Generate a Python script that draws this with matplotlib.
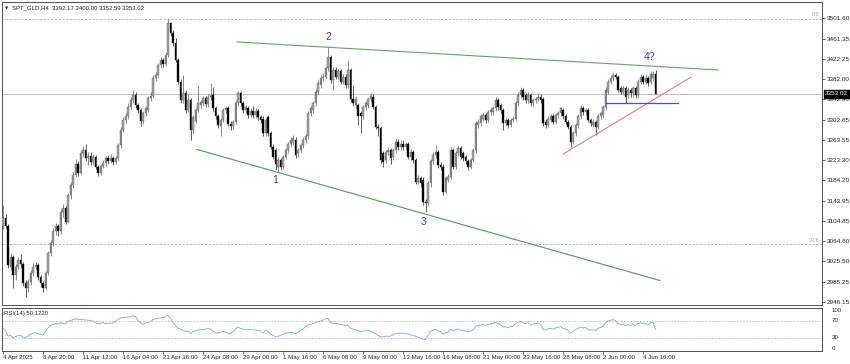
import matplotlib

matplotlib.use("Agg")
import matplotlib.pyplot as plt
import matplotlib.transforms as mtransforms
import numpy as np

# SPT_GLD H4 candles, 4 Apr 2025 .. 5 Jun 2025
OPENS = [
    3094, 3110, 3094, 3015, 3035, 2998, 3015, 3028, 3020, 2983,
    2973, 2986, 3002, 3015, 3018, 2995, 2983, 2973, 3002, 3041,
    3061, 3084, 3094, 3084, 3123, 3130, 3103, 3155, 3175, 3195,
    3217, 3198, 3237, 3244, 3227, 3232, 3220, 3230, 3211, 3198,
    3212, 3218, 3227, 3222, 3228, 3220, 3227, 3253, 3283, 3302,
    3309, 3328, 3341, 3351, 3331, 3322, 3300, 3315, 3322, 3345,
    3350, 3385, 3390, 3410, 3420, 3412, 3430, 3491, 3472, 3452,
    3420, 3377, 3341, 3355, 3322, 3341, 3282, 3300, 3322, 3332,
    3335, 3345, 3333, 3348, 3351, 3325, 3309, 3290, 3302, 3322,
    3326, 3295, 3290, 3298, 3335, 3354, 3335, 3322, 3325, 3312,
    3320, 3312, 3320, 3308, 3305, 3276, 3308, 3276, 3250, 3243,
    3211, 3224, 3211, 3230, 3243, 3256, 3260, 3263, 3237, 3243,
    3253, 3263, 3270, 3315, 3322, 3335, 3357, 3370, 3384, 3387,
    3403, 3426, 3380, 3400, 3387, 3397, 3377, 3387, 3370, 3400,
    3344, 3331, 3331, 3315, 3309, 3328, 3331, 3344, 3348, 3328,
    3289, 3286, 3237, 3224, 3240, 3243, 3230, 3243, 3260, 3250,
    3256, 3250, 3256, 3230, 3240, 3224, 3181, 3188, 3185, 3142,
    3139, 3178, 3221, 3234, 3240, 3214, 3211, 3162, 3185, 3191,
    3243, 3211, 3237, 3247, 3237, 3230, 3221, 3211, 3224, 3243,
    3292, 3296, 3305, 3312, 3302, 3318, 3318, 3325, 3341, 3331,
    3322, 3296, 3302, 3292, 3302, 3305, 3335, 3351, 3361, 3351,
    3341, 3351, 3335, 3341, 3344, 3348, 3344, 3299, 3292, 3302,
    3309, 3299, 3312, 3315, 3322, 3309, 3299, 3289, 3260, 3276,
    3292, 3309, 3325, 3318, 3322, 3302, 3292, 3299, 3289, 3309,
    3312, 3328, 3357, 3377, 3384, 3390, 3387, 3364, 3357, 3364,
    3351, 3361, 3354, 3364, 3351, 3377, 3387, 3377, 3384, 3377,
    3385, 3392.17,
]
HIGHS = [
    3136, 3118, 3098, 3041, 3038, 3020, 3035, 3040, 3025, 2990,
    2992, 3008, 3022, 3025, 3022, 2998, 2988, 3006, 3046, 3068,
    3090, 3100, 3098, 3128, 3138, 3133, 3160, 3180, 3200, 3225,
    3222, 3243, 3252, 3255, 3240, 3240, 3236, 3234, 3215, 3216,
    3224, 3233, 3234, 3236, 3232, 3232, 3258, 3288, 3308, 3316,
    3335, 3348, 3360, 3356, 3336, 3326, 3320, 3330, 3350, 3356,
    3390, 3396, 3414, 3426, 3424, 3436, 3500, 3494, 3478, 3462,
    3424, 3382, 3390, 3360, 3352, 3346, 3312, 3326, 3370, 3342,
    3350, 3350, 3352, 3374, 3366, 3330, 3314, 3306, 3326, 3330,
    3330, 3300, 3302, 3340, 3358, 3358, 3340, 3332, 3330, 3326,
    3330, 3325, 3324, 3312, 3310, 3306, 3312, 3280, 3256, 3248,
    3230, 3228, 3234, 3248, 3260, 3268, 3272, 3268, 3248, 3258,
    3268, 3275, 3320, 3330, 3340, 3362, 3380, 3390, 3394, 3408,
    3444, 3430, 3405, 3406, 3402, 3402, 3392, 3392, 3420, 3404,
    3370, 3350, 3336, 3320, 3332, 3340, 3348, 3354, 3352, 3332,
    3294, 3290, 3242, 3244, 3250, 3248, 3248, 3266, 3264, 3262,
    3262, 3260, 3260, 3246, 3244, 3228, 3194, 3192, 3190, 3148,
    3182, 3226, 3240, 3253, 3244, 3220, 3216, 3192, 3196, 3250,
    3248, 3242, 3254, 3252, 3242, 3234, 3226, 3228, 3248, 3300,
    3304, 3314, 3318, 3316, 3322, 3328, 3330, 3348, 3345, 3335,
    3326, 3308, 3306, 3306, 3310, 3340, 3356, 3367, 3364, 3355,
    3356, 3355, 3346, 3348, 3354, 3352, 3348, 3304, 3310, 3314,
    3313, 3316, 3320, 3328, 3326, 3313, 3303, 3293, 3280, 3296,
    3313, 3332, 3330, 3326, 3326, 3306, 3304, 3303, 3313, 3320,
    3332, 3366, 3382, 3388, 3395, 3394, 3391, 3368, 3368, 3368,
    3366, 3365, 3368, 3368, 3382, 3392, 3391, 3390, 3388, 3397,
    3398, 3400.00,
]
LOWS = [
    3088, 3090, 3012, 3008, 2973, 2990, 3010, 3012, 2978, 2955,
    2965, 2980, 2997, 3008, 2990, 2975, 2966, 2970, 2998, 3036,
    3055, 3078, 3075, 3080, 3112, 3098, 3100, 3148, 3170, 3190,
    3192, 3195, 3230, 3222, 3215, 3215, 3214, 3206, 3192, 3194,
    3208, 3212, 3216, 3218, 3215, 3216, 3222, 3248, 3278, 3296,
    3304, 3322, 3336, 3326, 3315, 3290, 3294, 3310, 3318, 3340,
    3346, 3378, 3385, 3404, 3406, 3408, 3425, 3466, 3446, 3415,
    3372, 3336, 3335, 3316, 3318, 3263, 3275, 3296, 3318, 3324,
    3330, 3328, 3328, 3342, 3320, 3304, 3286, 3270, 3298, 3316,
    3290, 3282, 3284, 3294, 3330, 3330, 3316, 3316, 3306, 3308,
    3306, 3306, 3302, 3296, 3270, 3270, 3270, 3245, 3225, 3204,
    3201, 3205, 3206, 3225, 3238, 3250, 3254, 3228, 3230, 3238,
    3248, 3258, 3265, 3310, 3316, 3330, 3352, 3365, 3378, 3382,
    3398, 3375, 3360, 3382, 3382, 3372, 3372, 3364, 3365, 3338,
    3330, 3326, 3292, 3276, 3304, 3322, 3326, 3338, 3324, 3284,
    3270, 3218, 3210, 3218, 3234, 3217, 3224, 3238, 3244, 3244,
    3244, 3244, 3225, 3224, 3218, 3176, 3176, 3172, 3136, 3123,
    3134, 3172, 3216, 3228, 3208, 3204, 3156, 3158, 3180, 3186,
    3206, 3206, 3232, 3225, 3222, 3216, 3204, 3206, 3220, 3238,
    3286, 3290, 3300, 3296, 3298, 3312, 3312, 3320, 3322, 3316,
    3282, 3290, 3286, 3288, 3298, 3300, 3330, 3346, 3342, 3336,
    3336, 3330, 3330, 3336, 3340, 3336, 3290, 3286, 3288, 3298,
    3294, 3294, 3306, 3310, 3304, 3294, 3284, 3249, 3255, 3270,
    3286, 3304, 3312, 3312, 3298, 3290, 3288, 3272, 3284, 3304,
    3306, 3322, 3352, 3372, 3378, 3382, 3356, 3352, 3352, 3335,
    3346, 3348, 3348, 3346, 3346, 3372, 3372, 3372, 3368, 3372,
    3378, 3352.59,
]
CLOSES = [
    3110, 3094, 3018, 3035, 2998, 3015, 3028, 3020, 2983, 2973,
    2986, 3002, 3015, 3018, 2995, 2983, 2973, 3002, 3041, 3061,
    3084, 3094, 3084, 3123, 3130, 3103, 3155, 3175, 3195, 3217,
    3198, 3237, 3244, 3227, 3232, 3220, 3230, 3211, 3198, 3212,
    3218, 3227, 3222, 3228, 3220, 3227, 3253, 3283, 3302, 3309,
    3328, 3341, 3351, 3331, 3322, 3300, 3315, 3325, 3345, 3350,
    3385, 3390, 3410, 3420, 3412, 3430, 3491, 3472, 3452, 3420,
    3377, 3341, 3355, 3322, 3341, 3282, 3308, 3322, 3335, 3338,
    3345, 3333, 3348, 3351, 3325, 3309, 3292, 3302, 3322, 3326,
    3295, 3290, 3298, 3335, 3354, 3335, 3322, 3328, 3312, 3320,
    3312, 3320, 3308, 3302, 3276, 3302, 3276, 3250, 3230, 3217,
    3224, 3211, 3230, 3243, 3256, 3263, 3266, 3234, 3243, 3253,
    3263, 3270, 3315, 3325, 3335, 3357, 3374, 3384, 3387, 3403,
    3426, 3380, 3400, 3387, 3397, 3377, 3387, 3370, 3400, 3344,
    3335, 3344, 3309, 3309, 3328, 3335, 3344, 3349, 3328, 3289,
    3286, 3224, 3220, 3240, 3243, 3227, 3243, 3260, 3250, 3255,
    3250, 3255, 3230, 3240, 3224, 3181, 3188, 3178, 3142, 3139,
    3178, 3221, 3234, 3240, 3214, 3211, 3162, 3188, 3191, 3243,
    3211, 3237, 3247, 3230, 3227, 3221, 3211, 3224, 3243, 3296,
    3299, 3309, 3312, 3302, 3318, 3322, 3325, 3341, 3328, 3322,
    3296, 3302, 3292, 3302, 3305, 3335, 3351, 3361, 3348, 3341,
    3351, 3335, 3341, 3344, 3348, 3341, 3296, 3292, 3305, 3309,
    3299, 3312, 3315, 3325, 3309, 3299, 3289, 3260, 3276, 3292,
    3309, 3325, 3318, 3322, 3302, 3296, 3299, 3289, 3309, 3315,
    3328, 3361, 3377, 3384, 3390, 3387, 3361, 3357, 3364, 3348,
    3361, 3354, 3364, 3351, 3377, 3387, 3377, 3384, 3374, 3393,
    3392.17, 3353.02,
]
RSI = [
    52, 48, 34, 37, 30, 33, 35, 36, 32, 31,
    35, 39, 41, 42, 40, 38, 37, 45, 53, 59,
    61, 63, 62, 65, 64, 62, 68, 70, 72, 74,
    73, 73, 72, 71, 71, 70, 69, 65, 62, 64,
    65, 63, 63, 64, 64, 68, 72, 76, 77, 77,
    78, 79, 81, 79, 70, 65, 61, 64, 66, 68,
    72, 74, 75, 76, 77, 79, 82, 75, 66, 59,
    53, 50, 48, 45, 45, 40, 45, 46, 48, 49,
    50, 50, 52, 50, 46, 42, 41, 43, 45, 43,
    41, 40, 45, 50, 55, 52, 50, 50, 50, 49,
    49, 48, 48, 46, 41, 48, 45, 39, 36, 32,
    34, 36, 39, 41, 42, 43, 42, 40, 43, 48,
    50, 56, 60, 61, 63, 65, 67, 69, 71, 74,
    75, 66, 63, 63, 63, 61, 60, 59, 59, 53,
    50, 49, 47, 45, 45, 48, 48, 46, 43, 39,
    36, 32, 33, 34, 34, 34, 37, 40, 41, 41,
    41, 41, 39, 37, 36, 34, 32, 29, 27, 26,
    36, 45, 48, 50, 46, 45, 38, 42, 43, 50,
    46, 49, 51, 48, 47, 46, 44, 46, 49, 57,
    58, 60, 61, 59, 61, 62, 63, 66, 63, 61,
    55, 56, 54, 56, 57, 63, 66, 68, 65, 63,
    65, 61, 62, 63, 64, 61, 50, 48, 51, 52,
    50, 53, 54, 56, 52, 50, 48, 41, 45, 49,
    52, 55, 53, 54, 49, 48, 49, 47, 52, 54,
    57, 65, 69, 71, 72, 70, 63, 61, 62, 58,
    61, 59, 61, 58, 63, 65, 62, 63, 61, 65,
    66, 50.122,
]

PRICE_TICKS = [3501.60, 3461.35, 3422.25, 3382.00, 3342.90, 3302.65, 3263.55,
               3223.30, 3184.20, 3143.95, 3104.85, 3064.60, 3025.50, 2985.25, 2946.15]
TIME_LABELS = ["4 Apr 2025", "8 Apr 20:00", "11 Apr 12:00", "16 Apr 04:00",
               "21 Apr 16:00", "24 Apr 08:00", "29 Apr 00:00", "1 May 16:00",
               "6 May 08:00", "9 May 00:00", "13 May 16:00", "16 May 08:00",
               "21 May 00:00", "23 May 16:00", "28 May 08:00", "2 Jun 00:00",
               "4 Jun 16:00"]
TIME_BARS = [16 * k for k in range(len(TIME_LABELS))]

# drawn objects: (bar, price) end points
UPPER_LINE = [(93.6, 3454.7), (286.0, 3399.9)]
LOWER_LINE = [(77.6, 3244.4), (262.8, 2988.1)]
SUPPORT_LINE = [(224.1, 3235.6), (275.1, 3385.6)]
LEVEL_LINE = [(241.2, 3336.0), (270.0, 3336.0)]
WAVES = [("1", 108.8, 3184.7), ("2", 130.0, 3464.4), ("3", 168.4, 3102.6), ("4?", 258.8, 3425.3)]
FIB_LEVELS = [("0.0", 3500.05), ("23.6", 3059.0)]
BID = 3353.02

W, H = 850, 364
FONT = "Liberation Sans"
plt.rcParams["font.family"] = [FONT, "DejaVu Sans"]


def rect(x0, y0, x1, y1):
    return [x0 / W, 1 - y1 / H, (x1 - x0) / W, (y1 - y0) / H]


def px_to_price(y):
    return 3501.6 - (y - 18) * 1.956


fig = plt.figure(figsize=(W / 100, H / 100), dpi=100, facecolor="white")
ax = fig.add_axes(rect(2, 2, 822, 305))
rax = fig.add_axes(rect(2, 307.5, 822, 351))

x = np.arange(len(CLOSES))
o, h, l, c = (np.array(a, dtype=float) for a in (OPENS, HIGHS, LOWS, CLOSES))
up = c >= o
for mask, face, edge in ((up, "#a4a4a4", "#4a4a4a"), (~up, "#000000", "#000000")):
    ax.vlines(x[mask], l[mask], h[mask], color=edge, linewidth=0.45, zorder=3)
    body = np.maximum(np.abs(c - o), 0.8)[mask]
    ax.bar(x[mask], body, bottom=np.minimum(o, c)[mask], width=0.7,
           color=face, edgecolor=edge, linewidth=0.25, zorder=4)

ax.set_xlim(-0.4, 327.6)
ax.set_ylim(px_to_price(305), px_to_price(2))
ax.set_xticks([])
ax.yaxis.tick_right()
ax.set_yticks(PRICE_TICKS)
ax.set_yticklabels([f"{t:.2f}" for t in PRICE_TICKS])
ax.tick_params(axis="y", length=2, width=0.5, pad=1.5, labelsize=4.6,
               colors="#222222")

for lab, lvl in FIB_LEVELS:
    ax.axhline(lvl, color="#a8a8a8", linewidth=0.6, linestyle=(0, (2.5, 2)), zorder=1)
    ax.text(326.5, lvl + 3, lab, ha="right", va="bottom", fontsize=4,
            color="#8aa2bb", zorder=2)
ax.axhline(BID, color="#c4c4c4", linewidth=0.8, zorder=1)

for pts, col, lw in ((UPPER_LINE, "#5aa85a", 0.8), (LOWER_LINE, "#4e9e4e", 0.8),
                     (SUPPORT_LINE, "#e67a7a", 0.8), (LEVEL_LINE, "#4b4be0", 0.9)):
    (xa, ya), (xb, yb) = pts
    ax.plot([xa, xb], [ya, yb], color=col, linewidth=lw, zorder=5)

for lab, bx, by in WAVES:
    ax.text(bx, by, lab, ha="center", va="center", fontsize=7.5,
            color="#3a3ad0", zorder=6)

blend = mtransforms.blended_transform_factory(ax.transAxes, ax.transData)
ax.text(1.004, BID, f"{BID:.2f}", transform=blend, ha="left", va="center",
        fontsize=4.6, color="white", zorder=10, clip_on=False,
        bbox=dict(boxstyle="square,pad=0.25", facecolor="black", edgecolor="black"))

fig.text(5 / W, 1 - 8 / H, "▼", fontsize=3, ha="left", va="center",
         color="#333333", family="DejaVu Sans")
fig.text(12 / W, 1 - 8 / H, "SPT_GLD,H4  3392.17 3400.00 3352.59 3353.02",
         fontsize=4.3, ha="left", va="center", color="#222222")

# RSI window
rax.plot(x, RSI, color="#6aaee6", linewidth=0.6)
for lvl in (70, 30):
    rax.axhline(lvl, color="#b0b0b0", linewidth=0.5, linestyle=(0, (2.5, 2)))
rax.set_xlim(-0.4, 327.6)
rax.set_ylim(0, 100)
rax.set_yticks([])
rblend = mtransforms.blended_transform_factory(rax.transAxes, rax.transData)
for val, va in ((100, "top"), (70, "center"), (30, "center"), (0, "bottom")):
    rax.text(1.012, val, str(val), transform=rblend, ha="left", va=va,
             fontsize=4.4, color="#222222", clip_on=False)
rax.text(0.003, 93, "RSI(14) 50.1220", transform=rblend, ha="left", va="top",
         fontsize=4.3, color="#222222")
rax.set_xticks(TIME_BARS)
rax.set_xticklabels(TIME_LABELS, ha="left")
rax.tick_params(axis="x", length=2, width=0.5, pad=1.2, labelsize=4.4,
                colors="#222222")

for a in (ax, rax):
    for s in a.spines.values():
        s.set_color("#505050")
        s.set_linewidth(0.7)

fig.savefig("out.png", dpi=100, facecolor="white")
